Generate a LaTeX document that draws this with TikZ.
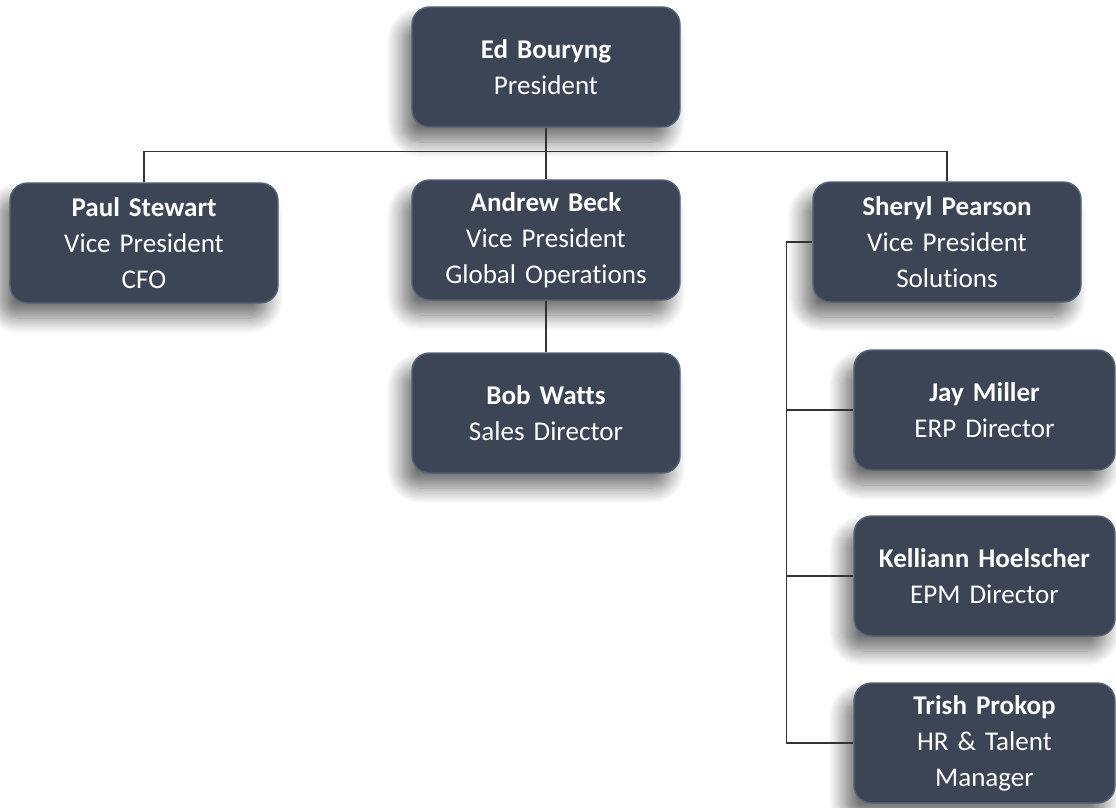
\documentclass[tikz,border=0pt]{standalone}
\usepackage{fontspec}
\setmainfont{Carlito}[RawFeature={-liga;-dlig;-calt}]
\usetikzlibrary{shadows.blur}
\definecolor{boxfill}{HTML}{3B4556}
\definecolor{boxedge}{HTML}{56627A}
\newcommand\boxfont{\fontsize{15.4}{20.4}\selectfont\spaceskip=0.2em plus 0.05em\relax}

\begin{document}
\begin{tikzpicture}[person/.style={rectangle, rounded corners=10pt, fill=boxfill, draw=boxedge, line width=0.8pt, text=white, minimum width=5.36cm, minimum height=2.4cm, text width=5.1cm, align=center, inner sep=0pt, font=\boxfont, blur shadow={shadow xshift=-0.2cm, shadow yshift=-0.3cm, shadow blur steps=14, shadow blur radius=0.3cm, shadow opacity=55}}, sub/.style={person, minimum width=5.22cm}, link/.style={line width=0.6pt, draw=black!80}]
            \useasboundingbox (0,0) rectangle (22.32,-16.14);
            % nodes
            \node[person] (ed) at (10.92,-1.34) {\textbf{Ed Bouryng}\\President};

            \node[person] (paul) at (2.88,-4.86) {\textbf{Paul Stewart}\\Vice President\\CFO};
            \node[person] (andrew) at (10.92,-4.80) {\textbf{Andrew Beck}\\Vice President\\Global Operations};
            \node[person] (sheryl) at (18.94,-4.84) {\textbf{Sheryl Pearson}\\Vice President\\Solutions};

            \node[person] (bob) at (10.92,-8.26) {\textbf{Bob Watts}\\Sales Director};

            \node[sub] (jay) at (19.69,-8.20) {\textbf{Jay Miller}\\ERP Director};
            \node[sub] (kelliann) at (19.69,-11.52) {\textbf{Kelliann Hoelscher}\\EPM Director};
            \node[sub] (trish) at (19.69,-14.86) {\textbf{Trish Prokop}\\HR \& Talent\\Manager};
            % edges
            \path (ed.south) ++(0,-0.48) coordinate (bus);
            \draw[link] (ed.south) -- (andrew.north);
            \draw[link] (paul.north) |- (bus) -| (sheryl.north);
            \draw[link] (andrew.south) -- (bob.north);

            \draw[link] (sheryl.west) -- ++(-0.52,0) coordinate (spine) |- (trish.west);
            \draw[link] (spine |- jay.west) -- (jay.west);
            \draw[link] (spine |- kelliann.west) -- (kelliann.west);
        \end{tikzpicture}
\end{document}
